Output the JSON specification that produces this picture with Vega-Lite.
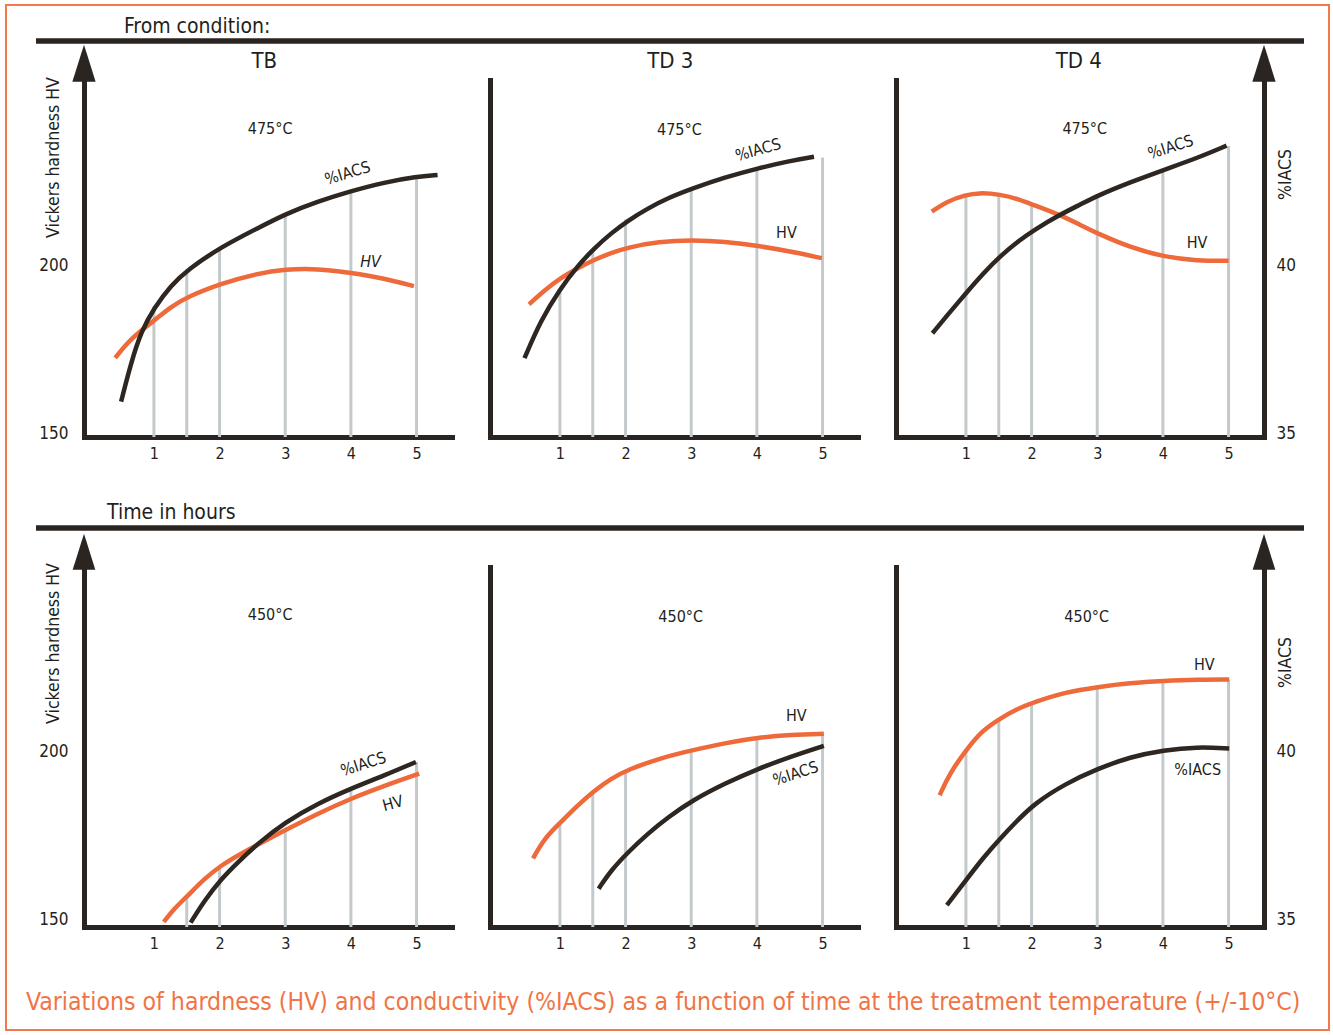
{
  "$schema": "https://vega.github.io/schema/vega-lite/v6.json",
  "background": "white",
  "padding": {"left": 4, "top": 4, "right": 4, "bottom": 4},
  "datasets": {
    "curves": [
      {"cond": "TB", "temp": 475, "series": "HV", "t": 0.41, "v": 172.5},
      {"cond": "TB", "temp": 475, "series": "HV", "t": 0.65, "v": 178.3},
      {"cond": "TB", "temp": 475, "series": "HV", "t": 1.0, "v": 183.5},
      {"cond": "TB", "temp": 475, "series": "HV", "t": 1.26, "v": 187.7},
      {"cond": "TB", "temp": 475, "series": "HV", "t": 1.52, "v": 190.7},
      {"cond": "TB", "temp": 475, "series": "HV", "t": 2.03, "v": 194.6},
      {"cond": "TB", "temp": 475, "series": "HV", "t": 2.58, "v": 197.6},
      {"cond": "TB", "temp": 475, "series": "HV", "t": 3.0, "v": 198.8},
      {"cond": "TB", "temp": 475, "series": "HV", "t": 3.49, "v": 199.0},
      {"cond": "TB", "temp": 475, "series": "HV", "t": 4.0, "v": 197.8},
      {"cond": "TB", "temp": 475, "series": "HV", "t": 4.51, "v": 196.1},
      {"cond": "TB", "temp": 475, "series": "HV", "t": 4.96, "v": 193.8},
      {"cond": "TB", "temp": 475, "series": "%IACS", "t": 0.5, "v": 35.95},
      {"cond": "TB", "temp": 475, "series": "%IACS", "t": 0.65, "v": 37.1},
      {"cond": "TB", "temp": 475, "series": "%IACS", "t": 0.81, "v": 38.05},
      {"cond": "TB", "temp": 475, "series": "%IACS", "t": 1.0, "v": 38.72},
      {"cond": "TB", "temp": 475, "series": "%IACS", "t": 1.26, "v": 39.4},
      {"cond": "TB", "temp": 475, "series": "%IACS", "t": 1.52, "v": 39.88},
      {"cond": "TB", "temp": 475, "series": "%IACS", "t": 2.03, "v": 40.55},
      {"cond": "TB", "temp": 475, "series": "%IACS", "t": 2.58, "v": 41.1},
      {"cond": "TB", "temp": 475, "series": "%IACS", "t": 3.0, "v": 41.52},
      {"cond": "TB", "temp": 475, "series": "%IACS", "t": 3.49, "v": 41.89},
      {"cond": "TB", "temp": 475, "series": "%IACS", "t": 4.0, "v": 42.2},
      {"cond": "TB", "temp": 475, "series": "%IACS", "t": 4.51, "v": 42.46},
      {"cond": "TB", "temp": 475, "series": "%IACS", "t": 5.0, "v": 42.63},
      {"cond": "TB", "temp": 475, "series": "%IACS", "t": 5.32, "v": 42.68},
      {"cond": "TD3", "temp": 475, "series": "HV", "t": 0.53, "v": 188.4},
      {"cond": "TD3", "temp": 475, "series": "HV", "t": 0.77, "v": 192.6},
      {"cond": "TD3", "temp": 475, "series": "HV", "t": 1.0, "v": 196.1},
      {"cond": "TD3", "temp": 475, "series": "HV", "t": 1.27, "v": 199.1},
      {"cond": "TD3", "temp": 475, "series": "HV", "t": 1.52, "v": 201.6},
      {"cond": "TD3", "temp": 475, "series": "HV", "t": 1.78, "v": 203.7},
      {"cond": "TD3", "temp": 475, "series": "HV", "t": 2.04, "v": 205.3},
      {"cond": "TD3", "temp": 475, "series": "HV", "t": 2.5, "v": 207.0},
      {"cond": "TD3", "temp": 475, "series": "HV", "t": 3.02, "v": 207.5},
      {"cond": "TD3", "temp": 475, "series": "HV", "t": 3.51, "v": 207.0},
      {"cond": "TD3", "temp": 475, "series": "HV", "t": 4.02, "v": 205.8},
      {"cond": "TD3", "temp": 475, "series": "HV", "t": 4.53, "v": 204.0},
      {"cond": "TD3", "temp": 475, "series": "HV", "t": 4.99, "v": 202.1},
      {"cond": "TD3", "temp": 475, "series": "%IACS", "t": 0.46, "v": 37.24},
      {"cond": "TD3", "temp": 475, "series": "%IACS", "t": 0.71, "v": 38.37},
      {"cond": "TD3", "temp": 475, "series": "%IACS", "t": 1.0, "v": 39.29},
      {"cond": "TD3", "temp": 475, "series": "%IACS", "t": 1.27, "v": 39.98},
      {"cond": "TD3", "temp": 475, "series": "%IACS", "t": 1.52, "v": 40.5},
      {"cond": "TD3", "temp": 475, "series": "%IACS", "t": 1.78, "v": 40.95},
      {"cond": "TD3", "temp": 475, "series": "%IACS", "t": 2.04, "v": 41.33},
      {"cond": "TD3", "temp": 475, "series": "%IACS", "t": 2.34, "v": 41.69},
      {"cond": "TD3", "temp": 475, "series": "%IACS", "t": 2.65, "v": 42.0},
      {"cond": "TD3", "temp": 475, "series": "%IACS", "t": 3.02, "v": 42.28},
      {"cond": "TD3", "temp": 475, "series": "%IACS", "t": 3.51, "v": 42.61},
      {"cond": "TD3", "temp": 475, "series": "%IACS", "t": 4.02, "v": 42.88},
      {"cond": "TD3", "temp": 475, "series": "%IACS", "t": 4.48, "v": 43.09},
      {"cond": "TD3", "temp": 475, "series": "%IACS", "t": 4.87, "v": 43.22},
      {"cond": "TD4", "temp": 475, "series": "HV", "t": 0.48, "v": 215.9},
      {"cond": "TD4", "temp": 475, "series": "HV", "t": 0.71, "v": 219.0},
      {"cond": "TD4", "temp": 475, "series": "HV", "t": 1.0, "v": 220.9},
      {"cond": "TD4", "temp": 475, "series": "HV", "t": 1.19, "v": 221.5},
      {"cond": "TD4", "temp": 475, "series": "HV", "t": 1.52, "v": 221.1},
      {"cond": "TD4", "temp": 475, "series": "HV", "t": 1.82, "v": 219.5},
      {"cond": "TD4", "temp": 475, "series": "HV", "t": 2.04, "v": 217.8},
      {"cond": "TD4", "temp": 475, "series": "HV", "t": 2.43, "v": 215.0},
      {"cond": "TD4", "temp": 475, "series": "HV", "t": 2.74, "v": 212.0},
      {"cond": "TD4", "temp": 475, "series": "HV", "t": 3.02, "v": 209.3},
      {"cond": "TD4", "temp": 475, "series": "HV", "t": 3.5, "v": 205.3},
      {"cond": "TD4", "temp": 475, "series": "HV", "t": 4.01, "v": 202.5},
      {"cond": "TD4", "temp": 475, "series": "HV", "t": 4.52, "v": 201.3},
      {"cond": "TD4", "temp": 475, "series": "HV", "t": 5.0, "v": 201.3},
      {"cond": "TD4", "temp": 475, "series": "%IACS", "t": 0.49, "v": 37.98},
      {"cond": "TD4", "temp": 475, "series": "%IACS", "t": 0.71, "v": 38.5},
      {"cond": "TD4", "temp": 475, "series": "%IACS", "t": 1.0, "v": 39.17},
      {"cond": "TD4", "temp": 475, "series": "%IACS", "t": 1.26, "v": 39.75},
      {"cond": "TD4", "temp": 475, "series": "%IACS", "t": 1.52, "v": 40.27},
      {"cond": "TD4", "temp": 475, "series": "%IACS", "t": 1.82, "v": 40.75},
      {"cond": "TD4", "temp": 475, "series": "%IACS", "t": 2.04, "v": 41.05},
      {"cond": "TD4", "temp": 475, "series": "%IACS", "t": 2.43, "v": 41.5},
      {"cond": "TD4", "temp": 475, "series": "%IACS", "t": 2.74, "v": 41.8},
      {"cond": "TD4", "temp": 475, "series": "%IACS", "t": 3.02, "v": 42.08},
      {"cond": "TD4", "temp": 475, "series": "%IACS", "t": 3.5, "v": 42.46},
      {"cond": "TD4", "temp": 475, "series": "%IACS", "t": 4.01, "v": 42.83},
      {"cond": "TD4", "temp": 475, "series": "%IACS", "t": 4.52, "v": 43.18},
      {"cond": "TD4", "temp": 475, "series": "%IACS", "t": 4.97, "v": 43.55},
      {"cond": "TB", "temp": 450, "series": "HV", "t": 1.15, "v": 149.2},
      {"cond": "TB", "temp": 450, "series": "HV", "t": 1.31, "v": 153.2},
      {"cond": "TB", "temp": 450, "series": "HV", "t": 1.52, "v": 157.1},
      {"cond": "TB", "temp": 450, "series": "HV", "t": 1.77, "v": 162.1},
      {"cond": "TB", "temp": 450, "series": "HV", "t": 2.03, "v": 166.1},
      {"cond": "TB", "temp": 450, "series": "HV", "t": 2.28, "v": 169.0},
      {"cond": "TB", "temp": 450, "series": "HV", "t": 2.58, "v": 172.2},
      {"cond": "TB", "temp": 450, "series": "HV", "t": 3.0, "v": 176.5},
      {"cond": "TB", "temp": 450, "series": "HV", "t": 3.49, "v": 181.4},
      {"cond": "TB", "temp": 450, "series": "HV", "t": 4.0, "v": 185.9},
      {"cond": "TB", "temp": 450, "series": "HV", "t": 4.51, "v": 189.7},
      {"cond": "TB", "temp": 450, "series": "HV", "t": 5.04, "v": 193.3},
      {"cond": "TB", "temp": 450, "series": "%IACS", "t": 1.56, "v": 34.9},
      {"cond": "TB", "temp": 450, "series": "%IACS", "t": 1.77, "v": 35.56},
      {"cond": "TB", "temp": 450, "series": "%IACS", "t": 2.03, "v": 36.21},
      {"cond": "TB", "temp": 450, "series": "%IACS", "t": 2.28, "v": 36.7},
      {"cond": "TB", "temp": 450, "series": "%IACS", "t": 2.58, "v": 37.25},
      {"cond": "TB", "temp": 450, "series": "%IACS", "t": 3.0, "v": 37.89},
      {"cond": "TB", "temp": 450, "series": "%IACS", "t": 3.49, "v": 38.44},
      {"cond": "TB", "temp": 450, "series": "%IACS", "t": 4.0, "v": 38.89},
      {"cond": "TB", "temp": 450, "series": "%IACS", "t": 4.51, "v": 39.28},
      {"cond": "TB", "temp": 450, "series": "%IACS", "t": 4.99, "v": 39.68},
      {"cond": "TD3", "temp": 450, "series": "HV", "t": 0.59, "v": 168.1},
      {"cond": "TD3", "temp": 450, "series": "HV", "t": 0.76, "v": 174.0},
      {"cond": "TD3", "temp": 450, "series": "HV", "t": 1.0, "v": 178.6},
      {"cond": "TD3", "temp": 450, "series": "HV", "t": 1.27, "v": 183.9},
      {"cond": "TD3", "temp": 450, "series": "HV", "t": 1.52, "v": 188.2},
      {"cond": "TD3", "temp": 450, "series": "HV", "t": 1.78, "v": 191.9},
      {"cond": "TD3", "temp": 450, "series": "HV", "t": 2.04, "v": 194.5},
      {"cond": "TD3", "temp": 450, "series": "HV", "t": 2.5, "v": 197.8},
      {"cond": "TD3", "temp": 450, "series": "HV", "t": 3.02, "v": 200.3},
      {"cond": "TD3", "temp": 450, "series": "HV", "t": 3.51, "v": 202.4},
      {"cond": "TD3", "temp": 450, "series": "HV", "t": 4.02, "v": 204.1},
      {"cond": "TD3", "temp": 450, "series": "HV", "t": 4.53, "v": 204.9},
      {"cond": "TD3", "temp": 450, "series": "HV", "t": 5.02, "v": 205.2},
      {"cond": "TD3", "temp": 450, "series": "%IACS", "t": 1.59, "v": 35.91},
      {"cond": "TD3", "temp": 450, "series": "%IACS", "t": 1.78, "v": 36.46},
      {"cond": "TD3", "temp": 450, "series": "%IACS", "t": 2.04, "v": 37.0},
      {"cond": "TD3", "temp": 450, "series": "%IACS", "t": 2.34, "v": 37.55},
      {"cond": "TD3", "temp": 450, "series": "%IACS", "t": 2.65, "v": 38.04},
      {"cond": "TD3", "temp": 450, "series": "%IACS", "t": 3.02, "v": 38.54},
      {"cond": "TD3", "temp": 450, "series": "%IACS", "t": 3.51, "v": 39.04},
      {"cond": "TD3", "temp": 450, "series": "%IACS", "t": 4.02, "v": 39.48},
      {"cond": "TD3", "temp": 450, "series": "%IACS", "t": 4.53, "v": 39.85},
      {"cond": "TD3", "temp": 450, "series": "%IACS", "t": 5.02, "v": 40.16},
      {"cond": "TD4", "temp": 450, "series": "HV", "t": 0.6, "v": 186.9},
      {"cond": "TD4", "temp": 450, "series": "HV", "t": 0.75, "v": 193.3},
      {"cond": "TD4", "temp": 450, "series": "HV", "t": 1.0, "v": 200.3},
      {"cond": "TD4", "temp": 450, "series": "HV", "t": 1.25, "v": 206.2},
      {"cond": "TD4", "temp": 450, "series": "HV", "t": 1.52, "v": 209.7},
      {"cond": "TD4", "temp": 450, "series": "HV", "t": 1.76, "v": 212.4},
      {"cond": "TD4", "temp": 450, "series": "HV", "t": 2.04, "v": 214.6},
      {"cond": "TD4", "temp": 450, "series": "HV", "t": 2.52, "v": 217.6},
      {"cond": "TD4", "temp": 450, "series": "HV", "t": 3.01, "v": 219.1},
      {"cond": "TD4", "temp": 450, "series": "HV", "t": 3.5, "v": 220.3},
      {"cond": "TD4", "temp": 450, "series": "HV", "t": 4.01, "v": 220.9},
      {"cond": "TD4", "temp": 450, "series": "HV", "t": 4.52, "v": 221.3},
      {"cond": "TD4", "temp": 450, "series": "HV", "t": 5.01, "v": 221.3},
      {"cond": "TD4", "temp": 450, "series": "%IACS", "t": 0.71, "v": 35.42},
      {"cond": "TD4", "temp": 450, "series": "%IACS", "t": 1.0, "v": 36.16},
      {"cond": "TD4", "temp": 450, "series": "%IACS", "t": 1.25, "v": 36.8},
      {"cond": "TD4", "temp": 450, "series": "%IACS", "t": 1.52, "v": 37.4},
      {"cond": "TD4", "temp": 450, "series": "%IACS", "t": 1.76, "v": 37.89},
      {"cond": "TD4", "temp": 450, "series": "%IACS", "t": 2.04, "v": 38.44},
      {"cond": "TD4", "temp": 450, "series": "%IACS", "t": 2.52, "v": 39.04},
      {"cond": "TD4", "temp": 450, "series": "%IACS", "t": 3.01, "v": 39.48},
      {"cond": "TD4", "temp": 450, "series": "%IACS", "t": 3.5, "v": 39.83},
      {"cond": "TD4", "temp": 450, "series": "%IACS", "t": 4.01, "v": 40.03},
      {"cond": "TD4", "temp": 450, "series": "%IACS", "t": 4.52, "v": 40.13},
      {"cond": "TD4", "temp": 450, "series": "%IACS", "t": 5.01, "v": 40.08}
    ],
    "guides": [
      {"cond": "TB", "temp": 475, "t": 1, "top": 187.9},
      {"cond": "TB", "temp": 475, "t": 1.5, "top": 198.9},
      {"cond": "TB", "temp": 475, "t": 2, "top": 205.3},
      {"cond": "TB", "temp": 475, "t": 3, "top": 215.2},
      {"cond": "TB", "temp": 475, "t": 4, "top": 222.0},
      {"cond": "TB", "temp": 475, "t": 5, "top": 226.3},
      {"cond": "TD3", "temp": 475, "t": 1, "top": 192.9},
      {"cond": "TD3", "temp": 475, "t": 1.5, "top": 204.5},
      {"cond": "TD3", "temp": 475, "t": 2, "top": 213.6},
      {"cond": "TD3", "temp": 475, "t": 3, "top": 222.8},
      {"cond": "TD3", "temp": 475, "t": 4, "top": 228.8},
      {"cond": "TD3", "temp": 475, "t": 5, "top": 232.0},
      {"cond": "TD4", "temp": 475, "t": 1, "top": 220.5},
      {"cond": "TD4", "temp": 475, "t": 1.5, "top": 220.8},
      {"cond": "TD4", "temp": 475, "t": 2, "top": 217.8},
      {"cond": "TD4", "temp": 475, "t": 3, "top": 220.8},
      {"cond": "TD4", "temp": 475, "t": 4, "top": 228.3},
      {"cond": "TD4", "temp": 475, "t": 5, "top": 235.4},
      {"cond": "TB", "temp": 450, "t": 1.5, "top": 156.6},
      {"cond": "TB", "temp": 450, "t": 2, "top": 165.6},
      {"cond": "TB", "temp": 450, "t": 3, "top": 176.5},
      {"cond": "TB", "temp": 450, "t": 4, "top": 188.9},
      {"cond": "TB", "temp": 450, "t": 5, "top": 196.8},
      {"cond": "TD3", "temp": 450, "t": 1, "top": 178.6},
      {"cond": "TD3", "temp": 450, "t": 1.5, "top": 188.0},
      {"cond": "TD3", "temp": 450, "t": 2, "top": 194.2},
      {"cond": "TD3", "temp": 450, "t": 3, "top": 200.2},
      {"cond": "TD3", "temp": 450, "t": 4, "top": 204.1},
      {"cond": "TD3", "temp": 450, "t": 5, "top": 205.2},
      {"cond": "TD4", "temp": 450, "t": 1, "top": 200.3},
      {"cond": "TD4", "temp": 450, "t": 1.5, "top": 209.5},
      {"cond": "TD4", "temp": 450, "t": 2, "top": 214.4},
      {"cond": "TD4", "temp": 450, "t": 3, "top": 219.1},
      {"cond": "TD4", "temp": 450, "t": 4, "top": 220.9},
      {"cond": "TD4", "temp": 450, "t": 5, "top": 221.3}
    ]
  },
  "columns": 3,
  "spacing": {"row": 39, "column": 38},
  "bounds": "flush",
  "concat": [
    {
      "width": 368, "height": 30,
      "data": {"values": [{}]},
      "layer": [
        {
          "mark": {"type": "rect", "filled": false, "stroke": "#f07a4c", "strokeWidth": 2},
          "encoding": {
            "x": {"datum": -0.212, "type": "quantitative", "scale": {"domain": [0, 1], "nice": false, "zero": false}, "axis": null},
            "x2": {"datum": 3.3832},
            "y": {"datum": 1.2, "type": "quantitative", "scale": {"domain": [0, 1], "nice": false, "zero": false}, "axis": null},
            "y2": {"datum": -32.967}
          }
        },
        {
          "mark": {"type": "rule", "color": "#2b2522", "strokeWidth": 5.5},
          "encoding": {
            "x": {"datum": -0.1304, "type": "quantitative", "scale": {"domain": [0, 1], "nice": false, "zero": false}, "axis": null},
            "x2": {"datum": 3.3152},
            "y": {"datum": 0, "type": "quantitative", "scale": {"domain": [0, 1], "nice": false, "zero": false}, "axis": null}
          }
        },
        {
          "mark": {"type": "text", "align": "left", "baseline": "middle", "fontSize": 21},
          "encoding": {
            "x": {"datum": 0.1087, "type": "quantitative", "scale": {"domain": [0, 1], "nice": false, "zero": false}, "axis": null},
            "y": {"datum": 0.47, "type": "quantitative", "scale": {"domain": [0, 1], "nice": false, "zero": false}, "axis": null},
            "text": {"value": "From condition:"}
          }
        }
      ]
    },
    {"width": 368, "height": 30, "data": {"values": [{}]}, "mark": {"type": "text"}, "encoding": {"text": {"value": ""}}},
    {"width": 368, "height": 30, "data": {"values": [{}]}, "mark": {"type": "text"}, "encoding": {"text": {"value": ""}}},
    {
      "width": 368, "height": 357,
      "layer": [
        {
          "data": {"name": "guides"},
          "transform": [{"filter": "datum.cond === 'TB' && datum.temp === 475"}],
          "mark": {"type": "rule", "color": "#c4cacb", "strokeWidth": 3},
          "encoding": {
            "x": {"field": "t", "type": "quantitative", "scale": {"domain": [-0.065, 5.54], "nice": false, "zero": false}, "axis": {"values": [1, 2, 3, 4, 5], "format": "d", "title": null, "labelPadding": 8}},
            "y": {"field": "top", "type": "quantitative", "scale": {"domain": [149, 255], "nice": false, "zero": false}, "axis": {"values": [150, 200], "labelPadding": 16, "title": "Vickers hardness HV", "titleAngle": 270, "titleX": -31, "titleY": 77, "titleAlign": "center", "titleBaseline": "middle"}},
            "y2": {"datum": 149}
          }
        },
        {
          "layer": [
            {
              "data": {"name": "curves"},
              "transform": [{"filter": "datum.cond === 'TB' && datum.temp === 475 && datum.series === 'HV'"}],
              "mark": {"type": "line", "color": "#ee6a3a", "strokeWidth": 4.5, "interpolate": "basis"},
              "encoding": {
                "x": {"field": "t", "type": "quantitative"},
                "y": {"field": "v", "type": "quantitative", "scale": {"domain": [149, 255], "nice": false, "zero": false}, "axis": null}
              }
            },
            {
              "data": {"values": [{}]},
              "mark": {"type": "text", "fontSize": 22},
              "encoding": {
                "x": {"datum": 2.68, "type": "quantitative"},
                "y": {"datum": 260.6, "type": "quantitative", "scale": {"domain": [149, 255], "nice": false, "zero": false}, "axis": null},
                "text": {"value": "TB"}
              }
            },
            {
              "data": {"values": [{}]},
              "mark": {"type": "text", "fontSize": 16},
              "encoding": {
                "x": {"datum": 2.77, "type": "quantitative"},
                "y": {"datum": 240.4, "type": "quantitative", "scale": {"domain": [149, 255], "nice": false, "zero": false}, "axis": null},
                "text": {"value": "475°C"}
              }
            },
            {
              "data": {"values": [{}]},
              "mark": {"type": "text", "fontSize": 16, "angle": 343},
              "encoding": {
                "x": {"datum": 3.95, "type": "quantitative"},
                "y": {"datum": 227.3, "type": "quantitative", "scale": {"domain": [149, 255], "nice": false, "zero": false}, "axis": null},
                "text": {"value": "%IACS"}
              }
            },
            {
              "data": {"values": [{}]},
              "mark": {"type": "text", "fontSize": 16, "fontStyle": "italic"},
              "encoding": {
                "x": {"datum": 4.3, "type": "quantitative"},
                "y": {"datum": 200.9, "type": "quantitative", "scale": {"domain": [149, 255], "nice": false, "zero": false}, "axis": null},
                "text": {"value": "HV"}
              }
            },
            {
              "data": {"values": [{}]},
              "mark": {"type": "point", "shape": "M-0.63,1L0,-1L0.63,1Z", "filled": true, "opacity": 1, "color": "#2b2522", "size": 1369},
              "encoding": {
                "x": {"datum": -0.065, "type": "quantitative"},
                "y": {"datum": 260, "type": "quantitative", "scale": {"domain": [149, 255], "nice": false, "zero": false}, "axis": null}
              }
            }
          ]
        },
        {
          "data": {"name": "curves"},
          "transform": [{"filter": "datum.cond === 'TB' && datum.temp === 475 && datum.series === '%IACS'"}],
          "mark": {"type": "line", "color": "#2d2621", "strokeWidth": 4.5, "interpolate": "basis"},
          "encoding": {
            "x": {"field": "t", "type": "quantitative"},
            "y": {"field": "v", "type": "quantitative", "scale": {"domain": [34.9, 45.5], "nice": false, "zero": false}, "axis": null}
          }
        }
      ],
      "resolve": {"scale": {"y": "independent"}}
    },
    {
      "width": 368, "height": 357,
      "layer": [
        {
          "data": {"name": "guides"},
          "transform": [{"filter": "datum.cond === 'TD3' && datum.temp === 475"}],
          "mark": {"type": "rule", "color": "#c4cacb", "strokeWidth": 3},
          "encoding": {
            "x": {"field": "t", "type": "quantitative", "scale": {"domain": [-0.065, 5.54], "nice": false, "zero": false}, "axis": {"values": [1, 2, 3, 4, 5], "format": "d", "title": null, "labelPadding": 8}},
            "y": {"field": "top", "type": "quantitative", "scale": {"domain": [149, 255], "nice": false, "zero": false}, "axis": {"labels": false, "title": null}},
            "y2": {"datum": 149}
          }
        },
        {
          "layer": [
            {
              "data": {"name": "curves"},
              "transform": [{"filter": "datum.cond === 'TD3' && datum.temp === 475 && datum.series === 'HV'"}],
              "mark": {"type": "line", "color": "#ee6a3a", "strokeWidth": 4.5, "interpolate": "basis"},
              "encoding": {
                "x": {"field": "t", "type": "quantitative"},
                "y": {"field": "v", "type": "quantitative", "scale": {"domain": [149, 255], "nice": false, "zero": false}, "axis": null}
              }
            },
            {
              "data": {"values": [{}]},
              "mark": {"type": "text", "fontSize": 22},
              "encoding": {
                "x": {"datum": 2.68, "type": "quantitative"},
                "y": {"datum": 260.6, "type": "quantitative", "scale": {"domain": [149, 255], "nice": false, "zero": false}, "axis": null},
                "text": {"value": "TD 3"}
              }
            },
            {
              "data": {"values": [{}]},
              "mark": {"type": "text", "fontSize": 16},
              "encoding": {
                "x": {"datum": 2.82, "type": "quantitative"},
                "y": {"datum": 240.2, "type": "quantitative", "scale": {"domain": [149, 255], "nice": false, "zero": false}, "axis": null},
                "text": {"value": "475°C"}
              }
            },
            {
              "data": {"values": [{}]},
              "mark": {"type": "text", "fontSize": 16, "angle": 344},
              "encoding": {
                "x": {"datum": 4.02, "type": "quantitative"},
                "y": {"datum": 234.2, "type": "quantitative", "scale": {"domain": [149, 255], "nice": false, "zero": false}, "axis": null},
                "text": {"value": "%IACS"}
              }
            },
            {
              "data": {"values": [{}]},
              "mark": {"type": "text", "fontSize": 16},
              "encoding": {
                "x": {"datum": 4.45, "type": "quantitative"},
                "y": {"datum": 209.5, "type": "quantitative", "scale": {"domain": [149, 255], "nice": false, "zero": false}, "axis": null},
                "text": {"value": "HV"}
              }
            }
          ]
        },
        {
          "data": {"name": "curves"},
          "transform": [{"filter": "datum.cond === 'TD3' && datum.temp === 475 && datum.series === '%IACS'"}],
          "mark": {"type": "line", "color": "#2d2621", "strokeWidth": 4.5, "interpolate": "basis"},
          "encoding": {
            "x": {"field": "t", "type": "quantitative"},
            "y": {"field": "v", "type": "quantitative", "scale": {"domain": [34.9, 45.5], "nice": false, "zero": false}, "axis": null}
          }
        }
      ],
      "resolve": {"scale": {"y": "independent"}}
    },
    {
      "width": 368, "height": 357,
      "layer": [
        {
          "data": {"name": "guides"},
          "transform": [{"filter": "datum.cond === 'TD4' && datum.temp === 475"}],
          "mark": {"type": "rule", "color": "#c4cacb", "strokeWidth": 3},
          "encoding": {
            "x": {"field": "t", "type": "quantitative", "scale": {"domain": [-0.065, 5.54], "nice": false, "zero": false}, "axis": {"values": [1, 2, 3, 4, 5], "format": "d", "title": null, "labelPadding": 8}},
            "y": {"field": "top", "type": "quantitative", "scale": {"domain": [149, 255], "nice": false, "zero": false}, "axis": {"labels": false, "title": null}},
            "y2": {"datum": 149}
          }
        },
        {
          "layer": [
            {
              "data": {"name": "curves"},
              "transform": [{"filter": "datum.cond === 'TD4' && datum.temp === 475 && datum.series === 'HV'"}],
              "mark": {"type": "line", "color": "#ee6a3a", "strokeWidth": 4.5, "interpolate": "basis"},
              "encoding": {
                "x": {"field": "t", "type": "quantitative"},
                "y": {"field": "v", "type": "quantitative", "scale": {"domain": [149, 255], "nice": false, "zero": false}, "axis": null}
              }
            },
            {
              "data": {"values": [{}]},
              "mark": {"type": "text", "fontSize": 22},
              "encoding": {
                "x": {"datum": 2.72, "type": "quantitative"},
                "y": {"datum": 260.6, "type": "quantitative", "scale": {"domain": [149, 255], "nice": false, "zero": false}, "axis": null},
                "text": {"value": "TD 4"}
              }
            },
            {
              "data": {"values": [{}]},
              "mark": {"type": "text", "fontSize": 16},
              "encoding": {
                "x": {"datum": 2.81, "type": "quantitative"},
                "y": {"datum": 240.4, "type": "quantitative", "scale": {"domain": [149, 255], "nice": false, "zero": false}, "axis": null},
                "text": {"value": "475°C"}
              }
            },
            {
              "data": {"values": [{}]},
              "mark": {"type": "text", "fontSize": 16, "angle": 342},
              "encoding": {
                "x": {"datum": 4.12, "type": "quantitative"},
                "y": {"datum": 235.0, "type": "quantitative", "scale": {"domain": [149, 255], "nice": false, "zero": false}, "axis": null},
                "text": {"value": "%IACS"}
              }
            },
            {
              "data": {"values": [{}]},
              "mark": {"type": "text", "fontSize": 16},
              "encoding": {
                "x": {"datum": 4.52, "type": "quantitative"},
                "y": {"datum": 206.5, "type": "quantitative", "scale": {"domain": [149, 255], "nice": false, "zero": false}, "axis": null},
                "text": {"value": "HV"}
              }
            },
            {
              "data": {"values": [{}]},
              "mark": {"type": "point", "shape": "M-0.63,1L0,-1L0.63,1Z", "filled": true, "opacity": 1, "color": "#2b2522", "size": 1369},
              "encoding": {
                "x": {"datum": 5.54, "type": "quantitative"},
                "y": {"datum": 260, "type": "quantitative", "scale": {"domain": [149, 255], "nice": false, "zero": false}, "axis": null}
              }
            }
          ]
        },
        {
          "data": {"name": "curves"},
          "transform": [{"filter": "datum.cond === 'TD4' && datum.temp === 475 && datum.series === '%IACS'"}],
          "mark": {"type": "line", "color": "#2d2621", "strokeWidth": 4.5, "interpolate": "basis"},
          "encoding": {
            "x": {"field": "t", "type": "quantitative"},
            "y": {"field": "v", "type": "quantitative", "scale": {"domain": [34.9, 45.5], "nice": false, "zero": false}, "axis": {"orient": "right", "values": [35, 40], "labelPadding": 12, "title": "%IACS", "titleAngle": 270, "titleX": 21, "titleY": 94, "titleAlign": "center", "titleBaseline": "middle"}}
          }
        }
      ],
      "resolve": {"scale": {"y": "independent"}}
    },
    {
      "width": 368, "height": 52,
      "data": {"values": [{}]},
      "layer": [
        {
          "mark": {"type": "rule", "color": "#2b2522", "strokeWidth": 5.5},
          "encoding": {
            "x": {"datum": -0.1304, "type": "quantitative", "scale": {"domain": [0, 1], "nice": false, "zero": false}, "axis": null},
            "x2": {"datum": 3.3152},
            "y": {"datum": 0, "type": "quantitative", "scale": {"domain": [0, 1], "nice": false, "zero": false}, "axis": null}
          }
        },
        {
          "mark": {"type": "text", "align": "left", "baseline": "middle", "fontSize": 21},
          "encoding": {
            "x": {"datum": 0.0625, "type": "quantitative", "scale": {"domain": [0, 1], "nice": false, "zero": false}, "axis": null},
            "y": {"datum": 0.29, "type": "quantitative", "scale": {"domain": [0, 1], "nice": false, "zero": false}, "axis": null},
            "text": {"value": "Time in hours"}
          }
        }
      ]
    },
    {"width": 368, "height": 52, "data": {"values": [{}]}, "mark": {"type": "text"}, "encoding": {"text": {"value": ""}}},
    {"width": 368, "height": 52, "data": {"values": [{}]}, "mark": {"type": "text"}, "encoding": {"text": {"value": ""}}},
    {
      "width": 368, "height": 360,
      "layer": [
        {
          "data": {"name": "guides"},
          "transform": [{"filter": "datum.cond === 'TB' && datum.temp === 450"}],
          "mark": {"type": "rule", "color": "#c4cacb", "strokeWidth": 3},
          "encoding": {
            "x": {"field": "t", "type": "quantitative", "scale": {"domain": [-0.065, 5.54], "nice": false, "zero": false}, "axis": {"values": [1, 2, 3, 4, 5], "format": "d", "title": null, "labelPadding": 8}},
            "y": {"field": "top", "type": "quantitative", "scale": {"domain": [147.7, 254.8], "nice": false, "zero": false}, "axis": {"values": [150, 200], "labelPadding": 16, "title": "Vickers hardness HV", "titleAngle": 270, "titleX": -31, "titleY": 76, "titleAlign": "center", "titleBaseline": "middle"}},
            "y2": {"datum": 147.7}
          }
        },
        {
          "layer": [
            {
              "data": {"name": "curves"},
              "transform": [{"filter": "datum.cond === 'TB' && datum.temp === 450 && datum.series === 'HV'"}],
              "mark": {"type": "line", "color": "#ee6a3a", "strokeWidth": 4.5, "interpolate": "basis"},
              "encoding": {
                "x": {"field": "t", "type": "quantitative"},
                "y": {"field": "v", "type": "quantitative", "scale": {"domain": [147.7, 254.8], "nice": false, "zero": false}, "axis": null}
              }
            },
            {
              "data": {"values": [{}]},
              "mark": {"type": "text", "fontSize": 16},
              "encoding": {
                "x": {"datum": 2.77, "type": "quantitative"},
                "y": {"datum": 240.4, "type": "quantitative", "scale": {"domain": [147.7, 254.8], "nice": false, "zero": false}, "axis": null},
                "text": {"value": "450°C"}
              }
            },
            {
              "data": {"values": [{}]},
              "mark": {"type": "text", "fontSize": 16, "angle": 342},
              "encoding": {
                "x": {"datum": 4.19, "type": "quantitative"},
                "y": {"datum": 196.1, "type": "quantitative", "scale": {"domain": [147.7, 254.8], "nice": false, "zero": false}, "axis": null},
                "text": {"value": "%IACS"}
              }
            },
            {
              "data": {"values": [{}]},
              "mark": {"type": "text", "fontSize": 16, "angle": 345},
              "encoding": {
                "x": {"datum": 4.64, "type": "quantitative"},
                "y": {"datum": 184.4, "type": "quantitative", "scale": {"domain": [147.7, 254.8], "nice": false, "zero": false}, "axis": null},
                "text": {"value": "HV"}
              }
            },
            {
              "data": {"values": [{}]},
              "mark": {"type": "point", "shape": "M-0.63,1L0,-1L0.63,1Z", "filled": true, "opacity": 1, "color": "#2b2522", "size": 1296},
              "encoding": {
                "x": {"datum": -0.065, "type": "quantitative"},
                "y": {"datum": 259.3, "type": "quantitative", "scale": {"domain": [147.7, 254.8], "nice": false, "zero": false}, "axis": null}
              }
            }
          ]
        },
        {
          "data": {"name": "curves"},
          "transform": [{"filter": "datum.cond === 'TB' && datum.temp === 450 && datum.series === '%IACS'"}],
          "mark": {"type": "line", "color": "#2d2621", "strokeWidth": 4.5, "interpolate": "basis"},
          "encoding": {
            "x": {"field": "t", "type": "quantitative"},
            "y": {"field": "v", "type": "quantitative", "scale": {"domain": [34.77, 45.48], "nice": false, "zero": false}, "axis": null}
          }
        }
      ],
      "resolve": {"scale": {"y": "independent"}}
    },
    {
      "width": 368, "height": 360,
      "layer": [
        {
          "data": {"name": "guides"},
          "transform": [{"filter": "datum.cond === 'TD3' && datum.temp === 450"}],
          "mark": {"type": "rule", "color": "#c4cacb", "strokeWidth": 3},
          "encoding": {
            "x": {"field": "t", "type": "quantitative", "scale": {"domain": [-0.065, 5.54], "nice": false, "zero": false}, "axis": {"values": [1, 2, 3, 4, 5], "format": "d", "title": null, "labelPadding": 8}},
            "y": {"field": "top", "type": "quantitative", "scale": {"domain": [147.7, 254.8], "nice": false, "zero": false}, "axis": {"labels": false, "title": null}},
            "y2": {"datum": 147.7}
          }
        },
        {
          "layer": [
            {
              "data": {"name": "curves"},
              "transform": [{"filter": "datum.cond === 'TD3' && datum.temp === 450 && datum.series === 'HV'"}],
              "mark": {"type": "line", "color": "#ee6a3a", "strokeWidth": 4.5, "interpolate": "basis"},
              "encoding": {
                "x": {"field": "t", "type": "quantitative"},
                "y": {"field": "v", "type": "quantitative", "scale": {"domain": [147.7, 254.8], "nice": false, "zero": false}, "axis": null}
              }
            },
            {
              "data": {"values": [{}]},
              "mark": {"type": "text", "fontSize": 16},
              "encoding": {
                "x": {"datum": 2.84, "type": "quantitative"},
                "y": {"datum": 239.8, "type": "quantitative", "scale": {"domain": [147.7, 254.8], "nice": false, "zero": false}, "axis": null},
                "text": {"value": "450°C"}
              }
            },
            {
              "data": {"values": [{}]},
              "mark": {"type": "text", "fontSize": 16},
              "encoding": {
                "x": {"datum": 4.6, "type": "quantitative"},
                "y": {"datum": 210.5, "type": "quantitative", "scale": {"domain": [147.7, 254.8], "nice": false, "zero": false}, "axis": null},
                "text": {"value": "HV"}
              }
            },
            {
              "data": {"values": [{}]},
              "mark": {"type": "text", "fontSize": 16, "angle": 342},
              "encoding": {
                "x": {"datum": 4.59, "type": "quantitative"},
                "y": {"datum": 193.3, "type": "quantitative", "scale": {"domain": [147.7, 254.8], "nice": false, "zero": false}, "axis": null},
                "text": {"value": "%IACS"}
              }
            }
          ]
        },
        {
          "data": {"name": "curves"},
          "transform": [{"filter": "datum.cond === 'TD3' && datum.temp === 450 && datum.series === '%IACS'"}],
          "mark": {"type": "line", "color": "#2d2621", "strokeWidth": 4.5, "interpolate": "basis"},
          "encoding": {
            "x": {"field": "t", "type": "quantitative"},
            "y": {"field": "v", "type": "quantitative", "scale": {"domain": [34.77, 45.48], "nice": false, "zero": false}, "axis": null}
          }
        }
      ],
      "resolve": {"scale": {"y": "independent"}}
    },
    {
      "width": 368, "height": 360,
      "layer": [
        {
          "data": {"name": "guides"},
          "transform": [{"filter": "datum.cond === 'TD4' && datum.temp === 450"}],
          "mark": {"type": "rule", "color": "#c4cacb", "strokeWidth": 3},
          "encoding": {
            "x": {"field": "t", "type": "quantitative", "scale": {"domain": [-0.065, 5.54], "nice": false, "zero": false}, "axis": {"values": [1, 2, 3, 4, 5], "format": "d", "title": null, "labelPadding": 8}},
            "y": {"field": "top", "type": "quantitative", "scale": {"domain": [147.7, 254.8], "nice": false, "zero": false}, "axis": {"labels": false, "title": null}},
            "y2": {"datum": 147.7}
          }
        },
        {
          "layer": [
            {
              "data": {"name": "curves"},
              "transform": [{"filter": "datum.cond === 'TD4' && datum.temp === 450 && datum.series === 'HV'"}],
              "mark": {"type": "line", "color": "#ee6a3a", "strokeWidth": 4.5, "interpolate": "basis"},
              "encoding": {
                "x": {"field": "t", "type": "quantitative"},
                "y": {"field": "v", "type": "quantitative", "scale": {"domain": [147.7, 254.8], "nice": false, "zero": false}, "axis": null}
              }
            },
            {
              "data": {"values": [{}]},
              "mark": {"type": "text", "fontSize": 16},
              "encoding": {
                "x": {"datum": 2.84, "type": "quantitative"},
                "y": {"datum": 239.8, "type": "quantitative", "scale": {"domain": [147.7, 254.8], "nice": false, "zero": false}, "axis": null},
                "text": {"value": "450°C"}
              }
            },
            {
              "data": {"values": [{}]},
              "mark": {"type": "text", "fontSize": 16},
              "encoding": {
                "x": {"datum": 4.63, "type": "quantitative"},
                "y": {"datum": 225.6, "type": "quantitative", "scale": {"domain": [147.7, 254.8], "nice": false, "zero": false}, "axis": null},
                "text": {"value": "HV"}
              }
            },
            {
              "data": {"values": [{}]},
              "mark": {"type": "text", "fontSize": 16},
              "encoding": {
                "x": {"datum": 4.53, "type": "quantitative"},
                "y": {"datum": 194.3, "type": "quantitative", "scale": {"domain": [147.7, 254.8], "nice": false, "zero": false}, "axis": null},
                "text": {"value": "%IACS"}
              }
            },
            {
              "data": {"values": [{}]},
              "mark": {"type": "point", "shape": "M-0.63,1L0,-1L0.63,1Z", "filled": true, "opacity": 1, "color": "#2b2522", "size": 1296},
              "encoding": {
                "x": {"datum": 5.54, "type": "quantitative"},
                "y": {"datum": 259.3, "type": "quantitative", "scale": {"domain": [147.7, 254.8], "nice": false, "zero": false}, "axis": null}
              }
            }
          ]
        },
        {
          "data": {"name": "curves"},
          "transform": [{"filter": "datum.cond === 'TD4' && datum.temp === 450 && datum.series === '%IACS'"}],
          "mark": {"type": "line", "color": "#2d2621", "strokeWidth": 4.5, "interpolate": "basis"},
          "encoding": {
            "x": {"field": "t", "type": "quantitative"},
            "y": {"field": "v", "type": "quantitative", "scale": {"domain": [34.77, 45.48], "nice": false, "zero": false}, "axis": {"orient": "right", "values": [35, 40], "labelPadding": 12, "title": "%IACS", "titleAngle": 270, "titleX": 21, "titleY": 95, "titleAlign": "center", "titleBaseline": "middle"}}
          }
        }
      ],
      "resolve": {"scale": {"y": "independent"}}
    },
    {
      "width": 368, "height": 40,
      "data": {"values": [{}]},
      "mark": {"type": "text", "align": "left", "baseline": "middle", "fontSize": 24.6, "color": "#f07445"},
      "encoding": {
        "x": {"datum": -0.1576, "type": "quantitative", "scale": {"domain": [0, 1], "nice": false, "zero": false}, "axis": null},
        "y": {"datum": 0.075, "type": "quantitative", "scale": {"domain": [0, 1], "nice": false, "zero": false}, "axis": null},
        "text": {"value": "Variations of hardness (HV) and conductivity (%IACS) as a function of time at the treatment temperature (+/-10°C)"}
      }
    }
  ],
  "config": {
    "font": "Liberation Sans Narrow, DejaVu Sans Condensed, Roboto, sans-serif",
    "view": {"stroke": null},
    "axis": {
      "grid": false, "ticks": false,
      "domainColor": "#2b2522", "domainWidth": 5, "domainCap": "square",
      "labelColor": "#231f20", "labelFontSize": 16,
      "titleColor": "#231f20", "titleFontSize": 17.5, "titleFontWeight": "normal"
    },
    "axisY": {"labelFontSize": 17},
    "text": {"color": "#231f20"}
  }
}
